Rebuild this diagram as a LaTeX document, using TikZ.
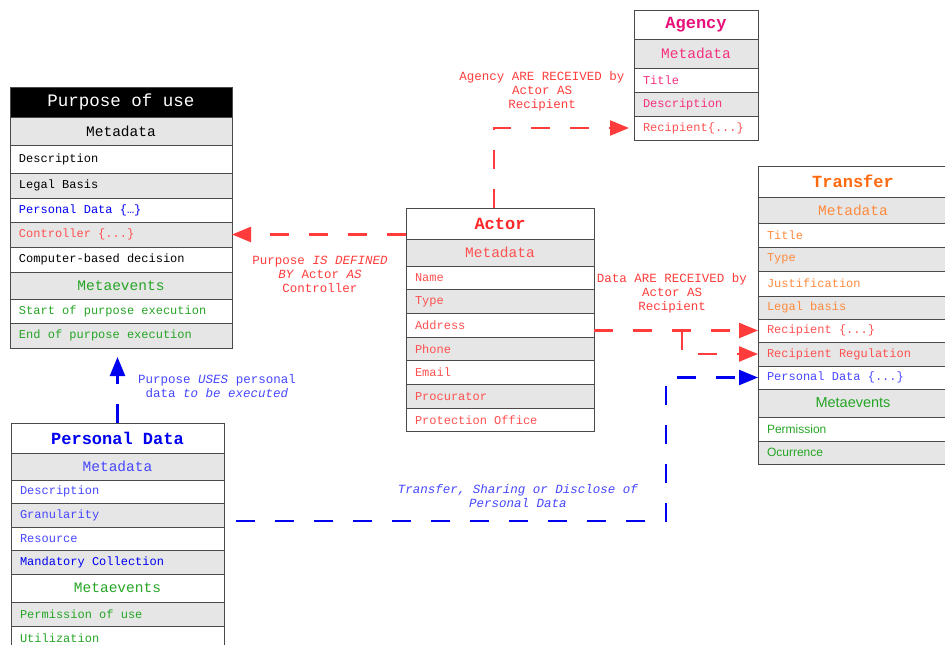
\documentclass[tikz,border=0pt]{standalone}
\usepackage{fontspec}
\setmainfont{Liberation Mono}
\newfontfamily\arialfont{Liberation Sans}
\usetikzlibrary{arrows.meta,positioning}

\definecolor{rowgray}{HTML}{E6E6E6}
\definecolor{rowline}{HTML}{4A4A4A}
\definecolor{agpink}{HTML}{E8107A}
\definecolor{agrose}{HTML}{F5307E}
\definecolor{acred}{HTML}{FF2828}
\definecolor{lightred}{HTML}{FF5050}
\definecolor{trorange}{HTML}{FF6A10}
\definecolor{lightorange}{HTML}{FF8A3D}
\definecolor{pdblue}{HTML}{0000F0}
\definecolor{lightblue}{HTML}{4646FF}
\definecolor{evgreen}{HTML}{25A525}
\definecolor{linkred}{HTML}{FF3B3B}

\begin{document}
\begin{tikzpicture}[x=1pt,y=-1pt,node distance=0pt,
  row/.style={draw=rowline,line width=0.9pt,inner xsep=9pt,inner ysep=0pt,outer sep=0pt,align=left,
    minimum height=24pt,font=\fontsize{12}{14}\selectfont,
    execute at begin node={\spaceskip=0.6em\xspaceskip=0.6em\relax}},
  grayrow/.style={row,fill=rowgray},
  head/.style={row,align=center,minimum height=27pt,font=\fontsize{14.5}{16}\selectfont},
  boxtitle/.style={row,align=center,minimum height=30pt,font=\fontsize{17}{19}\selectfont\bfseries},
  link/.style={line width=2.4pt,dash pattern=on 19pt off 20pt,-{Triangle[length=19pt,width=15pt]}},
  lab/.style={align=center,font=\fontsize{12.5}{14}\selectfont}]
\useasboundingbox (0,0) rectangle (945,645);

% purpose of use
\begin{scope}[every node/.append style={text width=204pt}]
\node[boxtitle,fill=black,text=white,font=\fontsize{17.5}{19}\selectfont] (pu-title) at (121,102) {Purpose of use};
\node[head,fill=rowgray,below=of pu-title,minimum height=28pt] (pu-meta) {Metadata};
\node[row,below=of pu-meta,minimum height=28pt] (pu-desc) {Description};
\node[grayrow,below=of pu-desc,minimum height=25pt] (pu-legal) {Legal Basis};
\node[row,below=of pu-legal,text=pdblue] (pu-pd) {Personal Data \{…\}};
\node[grayrow,below=of pu-pd,minimum height=25pt,text=lightred] (pu-ctrl) {Controller \{...\}};
\node[row,below=of pu-ctrl,minimum height=25pt] (pu-comp) {Computer-based decision};
\node[head,fill=rowgray,below=of pu-comp,text=evgreen] (pu-events) {Metaevents};
\node[row,below=of pu-events,text=evgreen] (pu-start) {Start of purpose execution};
\node[grayrow,below=of pu-start,minimum height=25pt,text=evgreen] (pu-end) {End of purpose execution};
\end{scope}

% agency
\begin{scope}[every node/.append style={text width=106pt}]
\node[boxtitle,text=agpink,minimum height=29pt] (ag-title) at (696,24.5) {Agency};
\node[head,fill=rowgray,below=of ag-title,minimum height=29pt,text=agrose] (ag-meta) {Metadata};
\node[row,below=of ag-meta,text=agrose] (ag-name) {Title};
\node[grayrow,below=of ag-name,text=agrose] (ag-desc) {Description};
\node[row,below=of ag-desc,text=lightred] (ag-rec) {Recipient\{...\}};
\end{scope}

% actor
\begin{scope}[every node/.append style={text width=170pt}]
\node[boxtitle,text=acred,minimum height=31pt] (ac-title) at (500,223.5) {Actor};
\node[head,fill=rowgray,below=of ac-title,text=lightred] (ac-meta) {Metadata};
\node[row,below=of ac-meta,minimum height=23.7pt,text=lightred] (ac-name) {Name};
\node[grayrow,below=of ac-name,minimum height=23.7pt,text=lightred] (ac-type) {Type};
\node[row,below=of ac-type,minimum height=23.7pt,text=lightred] (ac-addr) {Address};
\node[grayrow,below=of ac-addr,minimum height=23.7pt,text=lightred] (ac-phone) {Phone};
\node[row,below=of ac-phone,minimum height=23.7pt,text=lightred] (ac-mail) {Email};
\node[grayrow,below=of ac-mail,minimum height=23.7pt,text=lightred] (ac-proc) {Procurator};
\node[row,below=of ac-proc,minimum height=23.7pt,text=lightred] (ac-office) {Protection Office};
\end{scope}

% transfer
\begin{scope}[every node/.append style={text width=172pt}]
\node[boxtitle,text=trorange,minimum height=31pt] (tr-title) at (853,181.5) {Transfer};
\node[head,fill=rowgray,below=of tr-title,minimum height=26pt,text=lightorange] (tr-meta) {Metadata};
\node[row,below=of tr-meta,text=lightorange] (tr-name) {Title};
\node[grayrow,below=of tr-name,text=lightorange] (tr-type) {Type};
\node[row,below=of tr-type,minimum height=25pt,text=lightorange] (tr-just) {Justification};
\node[grayrow,below=of tr-just,minimum height=23pt,text=lightorange] (tr-legal) {Legal basis};
\node[row,below=of tr-legal,minimum height=23pt,text=lightred] (tr-rec) {Recipient \{...\}};
\node[grayrow,below=of tr-rec,text=lightred] (tr-reg) {Recipient Regulation};
\node[row,below=of tr-reg,minimum height=23pt,text=lightblue] (tr-pd) {Personal Data \{...\}};
\node[head,fill=rowgray,below=of tr-pd,minimum height=28pt,text=evgreen,font=\arialfont\fontsize{14.5}{16}\selectfont] (tr-events) {Metaevents};
\node[row,below=of tr-events,text=evgreen,font=\arialfont\fontsize{12}{14}\selectfont] (tr-perm) {Permission};
\node[grayrow,below=of tr-perm,minimum height=23pt,text=evgreen,font=\arialfont\fontsize{12}{14}\selectfont] (tr-occ) {Ocurrence};
\end{scope}

% personal data
\begin{scope}[every node/.append style={text width=195pt}]
\node[boxtitle,text=pdblue] (pd-title) at (117.5,438) {Personal Data};
\node[head,fill=rowgray,below=of pd-title,text=lightblue] (pd-meta) {Metadata};
\node[row,below=of pd-meta,minimum height=23.5pt,text=lightblue] (pd-desc) {Description};
\node[grayrow,below=of pd-desc,minimum height=23.5pt,text=lightblue] (pd-gran) {Granularity};
\node[row,below=of pd-gran,minimum height=23.5pt,text=lightblue] (pd-res) {Resource};
\node[grayrow,below=of pd-res,minimum height=23.5pt,text=pdblue] (pd-mand) {Mandatory Collection};
\node[head,below=of pd-mand,minimum height=28pt,text=evgreen] (pd-events) {Metaevents};
\node[grayrow,below=of pd-events,text=evgreen] (pd-perm) {Permission of use};
\node[row,below=of pd-perm,text=evgreen] (pd-util) {Utilization};
\end{scope}

% connectors
\draw[link,linkred] (ac-title.west |- pu-ctrl.east) -- (pu-ctrl.east);
\draw[link,linkred,shorten >=5pt] ([xshift=-6pt]ac-title.north) |- (ag-rec.west);
\draw[link,linkred] (ac-addr.east |- tr-rec.west) -- (tr-rec.west);
\coordinate (split) at ([xshift=-76pt]tr-rec.west);
\draw[link,linkred] (split) |- (tr-reg.west);
\draw[link,pdblue,shorten >=9pt] (pd-title.north) -- (pd-title.north |- pu-end.south);
\coordinate (turn) at ([xshift=-92pt]tr-pd.west);
\draw[link,pdblue] ([xshift=12pt,yshift=-6pt]pd-gran.east) -| (turn) -- (tr-pd.west);

% labels
\node[lab,text=linkred] (def-lab) at (320,274) {Purpose \textit{IS DEFINED}\\\textit{BY} Actor \textit{AS}\\Controller};
\node[lab,text=linkred] (agency-lab) at (542,91) {Agency ARE RECEIVED by\\Actor AS\\Recipient};
\node[lab,text=linkred] (data-lab) at (672,293) {Data ARE RECEIVED by\\Actor AS\\Recipient};
\node[lab,text=lightblue] (uses-lab) at (217,386) {Purpose \textit{USES} personal\\data \textit{to be executed}};
\node[lab,text=lightblue,font=\itshape\fontsize{12.5}{14}\selectfont] (share-lab) at (518,496) {Transfer, Sharing or Disclose of\\Personal Data};
\end{tikzpicture}
\end{document}
